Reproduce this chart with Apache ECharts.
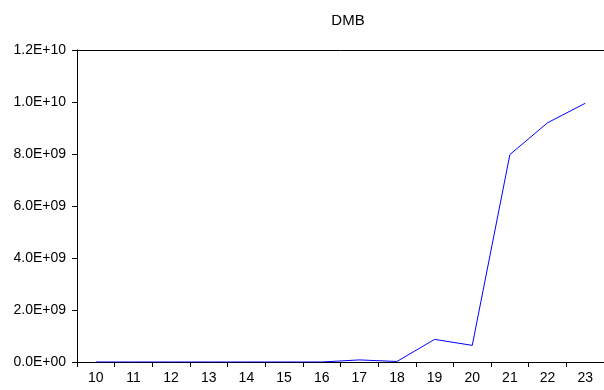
<!DOCTYPE html>
<html>
<head>
<meta charset="utf-8">
<script src="https://cdn.jsdelivr.net/npm/echarts@6/dist/echarts.min.js"></script>
<style>
  html, body { margin: 0; padding: 0; background: #fff; }
  #dmb { width: 604px; height: 390px; }
</style>
</head>
<body>
<div id="dmb"></div>
<script>
const years = ['10', '11', '12', '13', '14', '15', '16', '17', '18', '19', '20', '21', '22', '23'];
const dmbValues = [0, 0, 0, 0, 0, 0, 0, 8e7, 2e7, 8.7e8, 6.4e8, 7.98e9, 9.2e9, 9.95e9];

const sciLabel = (v) => {
  // eviews style: 2.0E+09
  const [m, e] = v.toExponential(1).toUpperCase().split('E');
  return m + 'E' + e[0] + e.slice(1).padStart(2, '0');
};

const font = 'Liberation Sans';

const chart = echarts.init(document.getElementById('dmb'));
chart.setOption({
  animation: false,
  title: {
    text: 'DMB',
    left: 343,
    textAlign: 'center',
    top: 8,
    textStyle: { fontFamily: font, fontSize: 15, fontWeight: 'normal', color: '#000' }
  },
  grid: { left: 77, top: 50, width: 531, height: 312 },
  xAxis: [
    {
      type: 'category',
      data: years,
      boundaryGap: true,
      axisLine: { lineStyle: { color: '#000', width: 1 } },
      axisTick: { show: true, length: 5, lineStyle: { color: '#000' } },
      axisLabel: { color: '#000', fontFamily: font, fontSize: 14, margin: 9 },
      splitLine: { show: false }
    },
    {
      // top border line only
      type: 'category',
      data: years,
      position: 'top',
      axisLine: { lineStyle: { color: '#000', width: 1 } },
      axisTick: { show: false },
      axisLabel: { show: false },
      splitLine: { show: false }
    }
  ],
  yAxis: {
    type: 'value',
    min: 0,
    max: 1.2e10,
    interval: 2e9,
    axisLine: { show: true, lineStyle: { color: '#000', width: 1 } },
    axisTick: { show: true, length: 5, lineStyle: { color: '#000' } },
    axisLabel: { color: '#000', fontFamily: font, fontSize: 14, margin: 11, formatter: sciLabel },
    splitLine: { show: false }
  },
  series: [
    {
      name: 'DMB',
      type: 'line',
      data: dmbValues,
      symbol: 'none',
      lineStyle: { color: '#0000ff', width: 1 }
    }
  ]
});
</script>
</body>
</html>
